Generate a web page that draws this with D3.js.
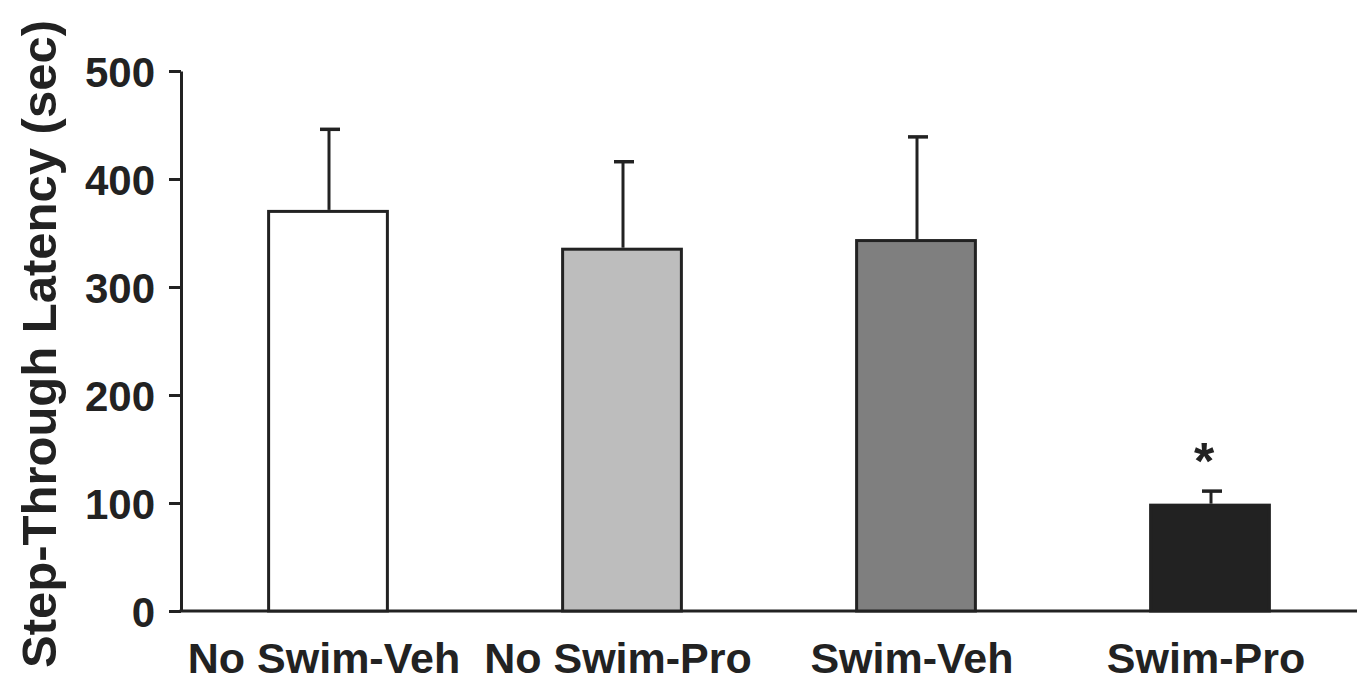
<!DOCTYPE html>
<html>
<head>
<meta charset="utf-8">
<script src="https://cdn.jsdelivr.net/npm/d3@7"></script>
<style>
  body { margin: 0; background: #fff; }
  svg text { font-family: "Liberation Sans", Arial, Helvetica, sans-serif; font-weight: bold; fill: #222; }
</style>
</head>
<body>
<svg id="chart" width="1363" height="683"></svg>
<script>
// bar chart: step-through latency by group

const groups = ["No Swim-Veh", "No Swim-Pro", "Swim-Veh", "Swim-Pro"];
const means = [370, 335, 343, 98];
const errTops = [446, 416, 439, 111];
const fills = ["#ffffff", "#bdbdbd", "#7f7f7f", "#222222"];
const yTicks = [0, 100, 200, 300, 400, 500];
const marks = ["", "", "", "*"];

const svg = d3.select("#chart");
const margin = { top: 71, left: 181, right: 1357, bottom: 611 };

const x = d3.scaleBand()
  .domain(groups)
  .range([margin.left, margin.right])
  .paddingInner(0.596)
  .paddingOuter(0.298);

const y = d3.scaleLinear()
  .domain([0, 500])
  .range([margin.bottom, margin.top]);

// y axis
const yAxis = svg.append("g")
  .attr("transform", `translate(${margin.left},0)`)
  .call(d3.axisLeft(y).tickValues(yTicks).tickSize(12).tickPadding(14).tickSizeOuter(0));
yAxis.select(".domain").attr("stroke", "#222").attr("stroke-width", 3);
yAxis.selectAll(".tick line").attr("stroke", "#222").attr("stroke-width", 3);
yAxis.selectAll("text").style("font-size", "42px").attr("dy", "0.36em");

// x axis line
svg.append("line")
  .attr("x1", margin.left - 1.5).attr("x2", margin.right)
  .attr("y1", y(0)).attr("y2", y(0))
  .attr("stroke", "#222").attr("stroke-width", 3);

// bars
svg.append("g").selectAll("rect")
  .data(groups)
  .enter().append("rect")
  .attr("x", d => x(d))
  .attr("y", (d, i) => y(means[i]))
  .attr("width", x.bandwidth())
  .attr("height", (d, i) => y(0) - y(means[i]))
  .attr("fill", (d, i) => fills[i])
  .attr("stroke", "#222")
  .attr("stroke-width", 3);

// error bars (upper only)
const err = svg.append("g");
groups.forEach((g, i) => {
  const cx = x(g) + x.bandwidth() / 2 + 1;
  err.append("line")
    .attr("x1", cx).attr("x2", cx)
    .attr("y1", y(means[i]) - 1.5).attr("y2", y(errTops[i]))
    .attr("stroke", "#222").attr("stroke-width", 3);
  err.append("line")
    .attr("x1", cx - 9).attr("x2", cx + 11)
    .attr("y1", y(errTops[i])).attr("y2", y(errTops[i]))
    .attr("stroke", "#222").attr("stroke-width", 3.5);
  if (marks[i]) {
    err.append("text")
      .attr("x", cx - 7)
      .attr("y", y(errTops[i]) - 12)
      .attr("text-anchor", "middle")
      .style("font-size", "52px")
      .text(marks[i]);
  }
});

// category labels
svg.append("g").selectAll("text")
  .data(groups)
  .enter().append("text")
  .attr("x", d => x(d) + x.bandwidth() / 2 - 4)
  .attr("y", 673)
  .attr("text-anchor", "middle")
  .style("font-size", "43px")
  .text(d => d);

// y axis title
svg.append("text")
  .attr("transform", "rotate(-90)")
  .attr("x", -344)
  .attr("y", 56)
  .attr("text-anchor", "middle")
  .style("font-size", "49px")
  .text("Step-Through Latency (sec)");
</script>
</body>
</html>
